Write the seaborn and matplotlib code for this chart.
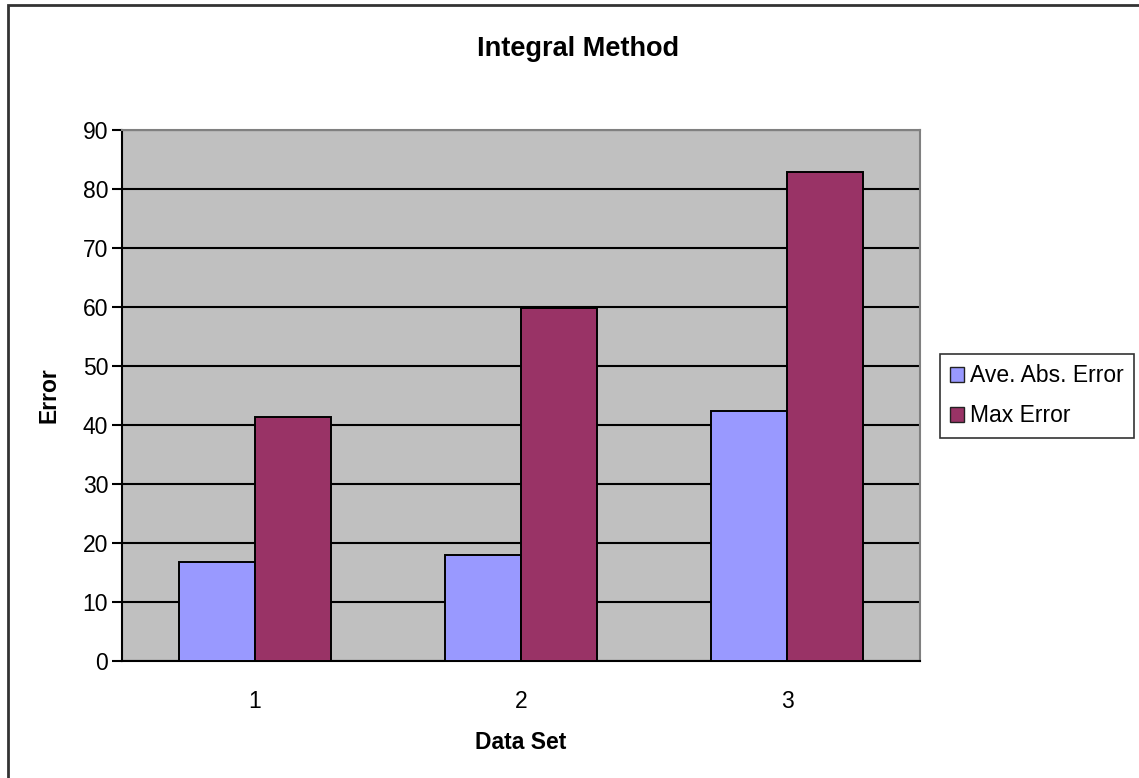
import matplotlib
matplotlib.use("Agg")
import matplotlib.pyplot as plt
from matplotlib.patches import Rectangle
from matplotlib.ticker import FixedLocator
import seaborn as sns
import pandas as pd

# Chart data
datasets = ["1", "2", "3"]
ave_abs_error = [16.7, 17.9, 42.3]
max_error = [41.4, 59.8, 82.9]
series_names = ["Ave. Abs. Error", "Max Error"]
series_colors = ["#9999FF", "#993366"]

df = pd.DataFrame({
    "Data Set": datasets * 2,
    "Error": ave_abs_error + max_error,
    "Series": [series_names[0]] * 3 + [series_names[1]] * 3,
})

sns.set_theme(style="white")
plt.rcParams["font.family"] = ["Liberation Sans", "DejaVu Sans"]
plt.rcParams.update({
    "text.color": "black",
    "axes.labelcolor": "black",
    "xtick.color": "black",
    "ytick.color": "black",
})

fig = plt.figure(figsize=(11.39, 7.78), dpi=100)
ax = fig.add_axes([122 / 1139, 1 - 661 / 778, (920 - 122) / 1139, (661 - 130) / 778])
ax.set_facecolor("#C0C0C0")

sns.barplot(data=df, x="Data Set", y="Error", hue="Series",
            palette=series_colors, width=0.571, edgecolor="black",
            linewidth=1.4, saturation=1, ax=ax, zorder=3)

ax.set_ylim(0, 90)
ax.set_xlim(-0.5, 2.5)
ax.set_yticks(range(0, 91, 10))
ax.yaxis.grid(True, color="black", linewidth=1.5, zorder=1)
ax.set_axisbelow(True)

ax.xaxis.set_minor_locator(FixedLocator([-0.5, 0.5, 1.5, 2.5]))
ax.tick_params(axis="x", which="major", length=0, pad=21, labelsize=16.5, colors="black")
ax.tick_params(axis="x", which="minor", length=7, width=1.5, color="black", direction="out")
ax.tick_params(axis="y", length=7, width=1.5, color="black", direction="out",
               labelsize=16.5, pad=3, left=True, labelcolor="black")

for side in ("left", "bottom"):
    ax.spines[side].set_color("black")
    ax.spines[side].set_linewidth(1.5)
for side in ("top", "right"):
    ax.spines[side].set_color("#808080")
    ax.spines[side].set_linewidth(1.5)

ax.set_xlabel("Data Set", fontsize=16.5, fontweight="bold", labelpad=13)
ax.set_ylabel("Error", fontsize=16.5, fontweight="bold", labelpad=16)
fig.text(578 / 1139, 1 - 49 / 778, "Integral Method", ha="center", va="center",
         fontsize=19.5, fontweight="bold")

handles, labels = ax.get_legend_handles_labels()
ax.get_legend().remove()
leg = fig.legend(handles, labels, loc="upper left",
                 bbox_to_anchor=(940 / 1139, 1 - 354 / 778),
                 fontsize=16.5, frameon=True, fancybox=False,
                 edgecolor="black", handlelength=0.6, handleheight=0.6,
                 handletextpad=0.25, borderpad=0.45, labelspacing=0.75,
                 borderaxespad=0)
leg.get_frame().set_linewidth(1.2)
for h in leg.legend_handles:
    h.set_edgecolor("#222222")
    h.set_linewidth(1.0)

# Outer chart border
fig.patches.append(Rectangle((8 / 1139, -0.05), 1.2, 1 - 5 / 778 + 0.05,
                             transform=fig.transFigure, fill=False,
                             edgecolor="#333333", linewidth=2))

fig.savefig("out.png", dpi=100, facecolor="white")
